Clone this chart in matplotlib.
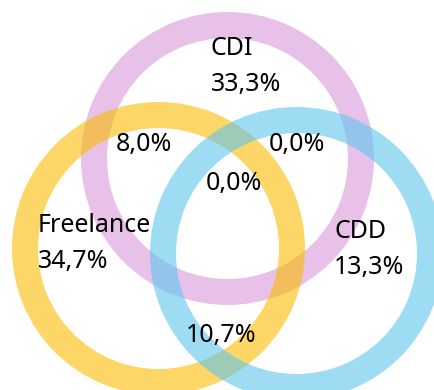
import matplotlib
matplotlib.use('Agg')
import matplotlib.pyplot as plt
from matplotlib.patches import Wedge

# sets and share of respondents (%)
sets = ['CDI', 'Freelance', 'CDD']
only_pct = [33.3, 34.7, 13.3]
colors = ['#DA98DA', '#FABB00', '#5DC5EE']
centers = [(227.5, 158.5), (158.5, 248.5), (296.5, 253.5)]

# overlaps: CDI&Freelance, CDI&CDD, all three, Freelance&CDD
overlap_pct = [8.0, 0.0, 0.0, 10.7]

def fmt(v):
    return f'{v:.1f}%'.replace('.', ',')

fig = plt.figure(figsize=(4.34, 3.90), dpi=100)
ax = fig.add_axes([0, 0, 1, 1])
ax.set_xlim(0, 434)
ax.set_ylim(390, 0)
ax.set_aspect('equal')
ax.axis('off')

for c, col in zip(centers, colors):
    ax.add_patch(Wedge(c, 146.5, 0, 360, width=26, facecolor=col,
                       edgecolor='none', alpha=0.6))

fs = 18
font = 'Noto Sans'
name_pos = [(211, 55), (38, 232), (334, 238)]
for name, pct, (x, y) in zip(sets, only_pct, name_pos):
    ax.text(x, y, name, fontsize=fs, family=font, ha='left', va='baseline')
    ax.text(x, y + 36, fmt(pct), fontsize=fs, family=font, ha='left', va='baseline')

overlap_pos = [(116, 151), (269, 151), (206, 190), (186, 342)]
for pct, (x, y) in zip(overlap_pct, overlap_pos):
    ax.text(x, y, fmt(pct), fontsize=fs, family=font, ha='left', va='baseline')

fig.savefig('out.png', dpi=100)
